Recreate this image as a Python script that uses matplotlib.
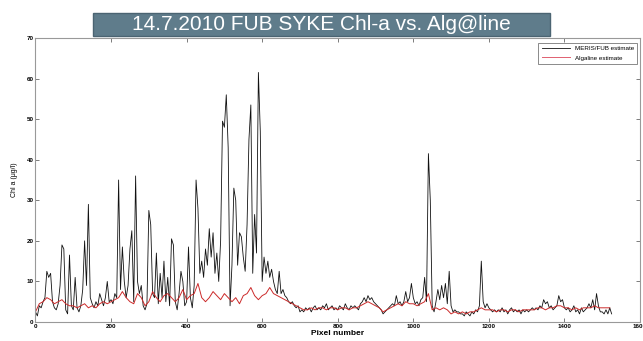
import numpy as np
import matplotlib
matplotlib.use("Agg")
import matplotlib.pyplot as plt
from matplotlib.patches import Rectangle

# ==========================
# Data
# ==========================

# MERIS/FUB estimate, every 5 pixels from 0 to 1525
meris_step = 5
meris = [
    2.5, 1.5, 4, 3.5, 5, 6, 12.5, 11, 12, 5, 3.5, 3, 4.5, 9, 19, 18, 3, 2, 16.5, 4,
    3, 11, 3.5, 2.5, 4, 8, 20, 9, 29, 6, 4.5, 3.5, 5, 4, 7, 5.5, 4, 6, 10, 5,
    5.5, 4.5, 7, 6, 35, 8, 18.5, 10, 6, 9, 18, 22.5, 5, 36, 10, 7, 9, 4, 3, 4.5,
    27.5, 24, 7, 6, 17, 4.5, 12, 6, 15, 5, 11, 4, 20.5, 19, 5, 3, 7, 12.5, 10, 4,
    5, 18.5, 6, 3.5, 9, 35, 28, 12, 15, 11, 18, 14, 23, 16, 22, 12, 17, 10, 20, 49.5,
    48, 56, 43, 4, 14, 33, 30, 14, 22, 21, 16, 12.5, 24, 45, 53.5, 12, 26.5, 17, 61.5, 47,
    10, 16, 12, 15, 11, 13, 10, 8, 7, 12.5, 7, 8, 6.5, 6, 5, 4.5, 5, 4, 3.5, 4,
    2.5, 3, 2.5, 3.5, 3, 3.5, 2.5, 3.5, 4, 3, 3.5, 3, 4, 3.5, 4.5, 3, 3.5, 4, 3, 3.5,
    3, 4, 3.5, 3, 4.5, 3.5, 3, 4, 3.5, 4, 3.5, 3, 4.5, 5, 6, 5, 6.5, 5.5, 6, 5,
    4.5, 4, 3.5, 3, 2, 2.5, 3, 3.5, 4, 4.5, 4, 6.5, 4.5, 5, 4, 5, 7.5, 5, 6, 9.5,
    6, 4.5, 5, 4, 5.5, 6, 11, 5, 41.5, 30, 4, 2.5, 5, 8, 5.5, 9, 6, 9.5, 4.5, 12.5,
    4, 2.5, 3, 2.5, 2.5, 2, 2, 1.5, 2.5, 2, 1.5, 2.5, 2, 3, 2.5, 4, 15, 5, 3.5, 4.5,
    3.5, 3, 2.5, 3, 2.5, 3, 2.5, 3.5, 2.5, 3, 2, 3, 3.5, 2.5, 3, 2.5, 3, 2, 3, 2.5,
    3, 2.5, 3, 3.5, 3, 3.5, 3, 4, 3.5, 5.5, 4.5, 5, 3.5, 4, 3, 3.5, 4, 6.5, 5, 5.5,
    3.5, 3, 3.5, 2.5, 3, 4, 2.5, 3, 2, 3.5, 2.5, 3, 3.5, 4.5, 3.5, 5.5, 3, 7, 4, 2.5,
    2.5, 2, 3, 2, 3.5, 2,
]

# Algaline estimate, every 10 pixels from 0 to 1520
algaline_step = 10
algaline = [
    2.5, 4.5, 5, 6, 5.5, 4.5, 5, 5.5, 4.5, 4,
    4, 3.5, 4, 4.5, 3.5, 4, 3.5, 4.5, 5, 4.5,
    5, 5.5, 6, 7.5, 6, 5, 4.5, 7, 6, 4,
    5, 7.5, 6, 5, 6.5, 7, 6, 5, 6, 8,
    5.5, 6.5, 7, 9.5, 6, 5, 6, 7.5, 6.5, 5.5,
    7, 6, 5, 6, 4.5, 6.5, 7, 8.5, 6.5, 5.5,
    6.5, 7, 8.5, 7, 6.5, 6, 5.5, 5, 4.5, 4,
    3.5, 3, 3, 3.5, 3, 3.5, 3.5, 3, 3.5, 3.5,
    3, 3.5, 3.5, 3, 3.5, 3.5, 4, 4.5, 5, 4.5,
    4, 3.5, 2.5, 3, 3.5, 4, 4.5, 4, 5, 4.5,
    4.5, 4, 4.5, 5, 7, 3, 3.5, 3, 3.5, 3,
    2, 2.5, 2, 2.5, 2, 2.5, 2.5, 3, 3.5, 3,
    3, 3, 2.5, 3, 3, 2.5, 3, 3, 2.5, 3,
    3, 3, 3, 3.5, 3.5, 3, 3.5, 3.5, 4, 4,
    3.5, 3.5, 3, 3.5, 3, 3.5, 3.5, 3.5, 4, 3.5,
    3.5, 3.5, 3.5,
]

series_labels = ["MERIS/FUB estimate", "Algaline estimate"]
title_text = "14.7.2010 FUB SYKE Chl-a vs. Alg@line"

meris_x = np.arange(len(meris)) * meris_step
algaline_x = np.arange(len(algaline)) * algaline_step

# ==========================
# Plot
# ==========================

plt.rcParams["font.family"] = ["Liberation Sans", "DejaVu Sans"]

fig = plt.figure(figsize=(6.43, 3.41), dpi=100)
ax = fig.add_axes([0.0552, 0.0557, 0.9401, 0.8329])

ax.plot(meris_x, meris, color="#111111", lw=0.6, label=series_labels[0])
ax.plot(algaline_x, algaline, color="#cc2a2a", lw=0.7, label=series_labels[1])

ax.set_xlim(0, 1600)
ax.set_ylim(0, 70)
ax.set_xticks(range(0, 1601, 200))
ax.set_yticks(range(0, 71, 10))
ax.tick_params(direction="in", length=3, width=0.6, colors="#666666",
               labelcolor="black", labelsize=4.5, pad=1.5,
               top=True, right=True)
for lab in ax.get_xticklabels() + ax.get_yticklabels():
    lab.set_fontweight("bold")
for sp in ax.spines.values():
    sp.set_color("#999999")
    sp.set_linewidth(0.8)

ax.set_xlabel("Pixel number", fontsize=6, fontweight="bold", labelpad=1)
ax.set_ylabel("Chl a (\u03bcg/l)", fontsize=5, labelpad=6)

leg = ax.legend(loc="upper right", bbox_to_anchor=(637 / 643, 1 - 43 / 341),
                bbox_transform=fig.transFigure, fontsize=4.5, frameon=True,
                fancybox=False, borderpad=0.5, handlelength=4.5,
                labelspacing=0.6, borderaxespad=0)
leg.get_frame().set_edgecolor("#555555")
leg.get_frame().set_linewidth(0.6)
leg.get_lines()[1].set_color("#e06070")

# title banner
fig.patches.append(Rectangle((93 / 643, 1 - 36 / 341), 457 / 643, 23 / 341,
                             transform=fig.transFigure, facecolor="#5f7c8b",
                             edgecolor="#4b6472", linewidth=1.0, zorder=5))
fig.text(0.5, 1 - 25 / 341, title_text, color="white", fontsize=15,
         ha="center", va="center", zorder=6)

fig.savefig("out.png", dpi=100)
print("[+] Saved out.png")
